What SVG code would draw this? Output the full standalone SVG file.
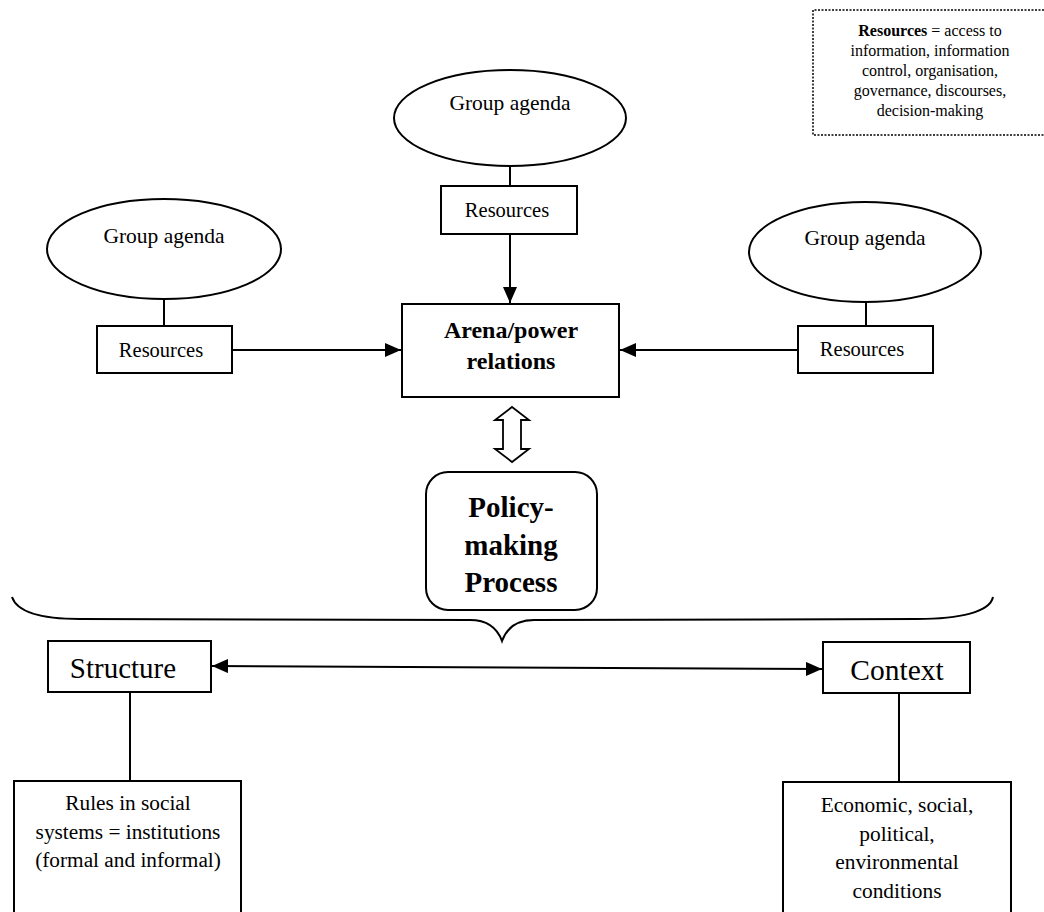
<svg xmlns="http://www.w3.org/2000/svg" width="1044" height="912" viewBox="0 0 1044 912">
<defs>
<style>
.sh{fill:#fff;stroke:#000;stroke-width:2}
.ln{fill:none;stroke:#000;stroke-width:2}
.t{font-family:"Liberation Serif","Times New Roman",serif;fill:#000;text-anchor:middle}
.ga{font-size:21.5px}
.rs{font-size:20.5px}
.b{font-weight:bold}
</style>
<marker id="ah2" viewBox="0 0 16 14" refX="16" refY="7" markerWidth="16" markerHeight="14" markerUnits="userSpaceOnUse" orient="auto-start-reverse">
<path d="M0,0 L16,7 L0,14 z" fill="#000"/>
</marker>
</defs>
<rect width="1044" height="912" fill="#fff"/>

<g id="legend">
<path d="M1044,10 L813,10 L813,135 L1044,135" fill="#fff" stroke="#000" stroke-width="1.5" stroke-dasharray="2,1.5"/>
<text class="t" font-size="16" x="930" y="36"><tspan font-weight="bold">Resources</tspan> = access to</text>
<text class="t" font-size="16" x="930" y="56">information, information</text>
<text class="t" font-size="16" x="930" y="76">control, organisation,</text>
<text class="t" font-size="16" x="930" y="96">governance, discourses,</text>
<text class="t" font-size="16" x="930" y="116">decision-making</text>
</g>

<g id="connectors">
<line class="ln" x1="510" y1="167" x2="510" y2="186"/>
<line class="ln" x1="164" y1="299" x2="164" y2="326"/>
<line class="ln" x1="866" y1="302" x2="866" y2="326"/>
<line class="ln" x1="510" y1="234" x2="510" y2="303" marker-end="url(#ah2)"/>
<line class="ln" x1="232" y1="350" x2="401" y2="350" marker-end="url(#ah2)"/>
<line class="ln" x1="798" y1="350" x2="620" y2="350" marker-end="url(#ah2)"/>
<path d="M512,407 L529,420 L521,420 L521,449 L529,449 L512,462 L495,449 L503,449 L503,420 L495,420 Z" fill="#fff" stroke="#000" stroke-width="1.8" stroke-linejoin="miter"/>
<path class="ln" d="M12,597 C18,615 50,619 80,619 L470,620 C490,620 498,630 502,641 C506,630 514,620 534,620 L917,619 C960,619 990,612 993,597" stroke-width="1.5"/>
<line class="ln" x1="212" y1="666" x2="822" y2="669" marker-start="url(#ah2)" marker-end="url(#ah2)"/>
<line class="ln" x1="130" y1="692" x2="130" y2="781"/>
<line class="ln" x1="899" y1="693" x2="899" y2="782"/>
</g>

<g id="agenda-top">
<ellipse class="sh" cx="510" cy="118" rx="116" ry="48"/>
<text class="t ga" x="510" y="110">Group agenda</text>
</g>
<g id="resources-top">
<rect class="sh" x="441" y="186" width="136" height="48"/>
<text class="t rs" x="507" y="217">Resources</text>
</g>

<g id="agenda-left">
<ellipse class="sh" cx="164" cy="249" rx="117" ry="50"/>
<text class="t ga" x="164" y="243">Group agenda</text>
</g>
<g id="resources-left">
<rect class="sh" x="97" y="326" width="135" height="47"/>
<text class="t rs" x="161" y="357">Resources</text>
</g>

<g id="agenda-right">
<ellipse class="sh" cx="865" cy="252" rx="116" ry="50"/>
<text class="t ga" x="865" y="245">Group agenda</text>
</g>
<g id="resources-right">
<rect class="sh" x="798" y="326" width="135" height="47"/>
<text class="t rs" x="862" y="356">Resources</text>
</g>

<g id="arena">
<rect class="sh" x="402" y="304" width="217" height="93"/>
<text class="t b" font-size="24" x="511" y="338">Arena/power</text>
<text class="t b" font-size="24" x="511" y="369">relations</text>
</g>

<g id="policy">
<rect class="sh" x="426" y="472" width="171" height="138" rx="22" ry="22" stroke-width="1.5"/>
<text class="t b" font-size="29" x="511" y="517">Policy-</text>
<text class="t b" font-size="29" x="511" y="555">making</text>
<text class="t b" font-size="29" x="511" y="592">Process</text>
</g>

<g id="structure">
<rect class="sh" x="48" y="641" width="163" height="51"/>
<text class="t" font-size="29" x="123" y="678">Structure</text>
</g>

<g id="context">
<rect class="sh" x="823" y="642" width="147" height="51"/>
<text class="t" font-size="29.5" x="897" y="680">Context</text>
</g>

<g id="rules">
<rect class="sh" x="14" y="781" width="227" height="140"/>
<text class="t" font-size="21.3" x="128" y="810">Rules in social</text>
<text class="t" font-size="21.3" x="128" y="839">systems = institutions</text>
<text class="t" font-size="21.3" x="128" y="867">(formal and informal)</text>
</g>

<g id="conditions">
<rect class="sh" x="783" y="782" width="228" height="140"/>
<text class="t" font-size="21.4" x="897" y="812">Economic, social,</text>
<text class="t" font-size="21.4" x="897" y="841">political,</text>
<text class="t" font-size="21.4" x="897" y="869">environmental</text>
<text class="t" font-size="21.4" x="897" y="898">conditions</text>
</g>
</svg>
